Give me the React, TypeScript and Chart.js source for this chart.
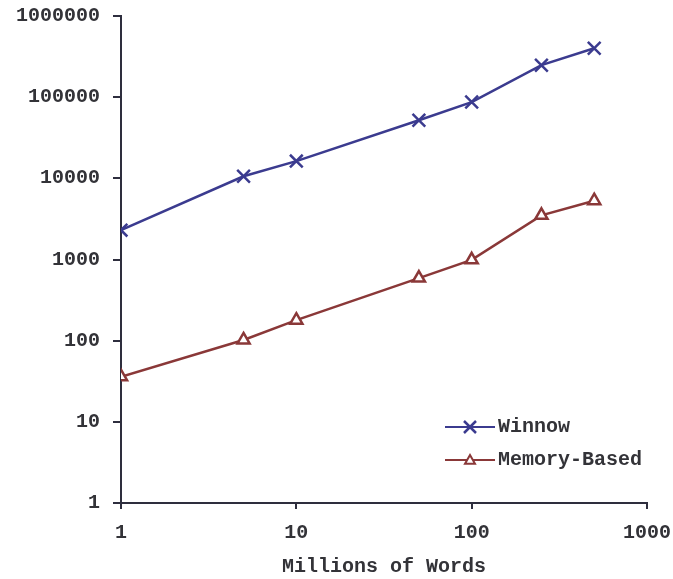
import React, { useEffect, useRef } from "react";
import { Chart, registerables } from "chart.js";

Chart.register(...registerables);

const xValues = [1, 5, 10, 50, 100, 250, 500];
const winnow = [2300, 10600, 16300, 52000, 87000, 248000, 401000];
const memoryBased = [36, 102, 179, 590, 990, 3500, 5300];
const yTicks = [1, 10, 100, 1000, 10000, 100000, 1000000];
const xTicks = [1, 10, 100, 1000];
const seriesNames = ["Winnow", "Memory-Based"];
const xTitle = "Millions of Words";

const FONT = '"Liberation Mono", "Courier New", monospace';
const TEXT = "#333338";
const AXIS = "#2e2e3e";
const BLUE = "#3b3b8f";
const RED = "#8a3838";

const legendPlugin = {
  id: "innerLegend",
  afterDraw(chart: any) {
    const ctx = chart.ctx;
    const x0 = 445;
    const x1 = 495;
    const rows = [427, 460];
    chart.data.datasets.forEach((ds: any, i: number) => {
      const y = rows[i];
      ctx.save();
      ctx.strokeStyle = ds.borderColor;
      ctx.lineWidth = 2;
      ctx.beginPath();
      ctx.moveTo(x0, y);
      ctx.lineTo(x1, y);
      ctx.stroke();
      const cx = (x0 + x1) / 2;
      if (ds.pointStyle === "crossRot") {
        const r = 6;
        ctx.lineWidth = 2.5;
        ctx.beginPath();
        ctx.moveTo(cx - r, y - r);
        ctx.lineTo(cx + r, y + r);
        ctx.moveTo(cx + r, y - r);
        ctx.lineTo(cx - r, y + r);
        ctx.stroke();
      } else {
        const r = 5;
        ctx.fillStyle = "#fff";
        ctx.beginPath();
        ctx.moveTo(cx, y - r);
        ctx.lineTo(cx + r, y + r * 0.75);
        ctx.lineTo(cx - r, y + r * 0.75);
        ctx.closePath();
        ctx.fill();
        ctx.stroke();
      }
      ctx.fillStyle = TEXT;
      ctx.font = `bold 20px ${FONT}`;
      ctx.textBaseline = "middle";
      ctx.textAlign = "left";
      ctx.fillText(ds.label, x1 + 3, y);
      ctx.restore();
    });
  },
};

const zeroPad = (s: any) => {
  s.paddingTop = 0;
  s.paddingBottom = 0;
  s.paddingLeft = 0;
  s.paddingRight = 0;
};

export default function App() {
  const ref = useRef<HTMLCanvasElement>(null);
  useEffect(() => {
    document.body.style.margin = "0";
    const canvas = ref.current!;
    const chart = new Chart(canvas, {
      type: "line",
      data: {
        datasets: [
          {
            label: seriesNames[0],
            data: xValues.map((x, i) => ({ x, y: winnow[i] })),
            borderColor: BLUE,
            backgroundColor: BLUE,
            borderWidth: 2.5,
            pointStyle: "crossRot",
            pointRadius: 9,
            pointBorderWidth: 2.5,
            pointBorderColor: BLUE,
          },
          {
            label: seriesNames[1],
            data: xValues.map((x, i) => ({ x, y: memoryBased[i] })),
            borderColor: RED,
            backgroundColor: "#ffffff",
            borderWidth: 2.5,
            pointStyle: "triangle",
            pointRadius: 7,
            pointBorderWidth: 2.5,
            pointBorderColor: RED,
            pointBackgroundColor: "#ffffff",
          },
        ],
      },
      options: {
        animation: false,
        responsive: false,
        maintainAspectRatio: false,
        layout: { padding: { top: 16, right: 26, left: 0, bottom: 0 } },
        plugins: {
          legend: { display: false },
          tooltip: { enabled: false },
        },
        scales: {
          x: {
            type: "logarithmic",
            min: 1,
            max: 1000,
            afterBuildTicks: (s: any) => {
              s.ticks = xTicks.map((v) => ({ value: v }));
            },
            afterFit: (s: any) => {
              s.height = 76;
              zeroPad(s);
            },
            grid: {
              drawOnChartArea: false,
              drawTicks: true,
              tickLength: 6,
              color: AXIS,
              lineWidth: 2,
            },
            border: { display: true, color: AXIS, width: 2 },
            ticks: {
              color: TEXT,
              padding: 12,
              maxRotation: 0,
              autoSkip: false,
              font: { family: FONT, size: 20, weight: "bold" },
              callback: (v: any) => String(v),
            },
            title: {
              display: true,
              text: xTitle,
              color: TEXT,
              padding: { top: 8, bottom: 0 },
              font: { family: FONT, size: 20, weight: "bold" },
            },
          },
          y: {
            type: "logarithmic",
            min: 1,
            max: 1000000,
            afterBuildTicks: (s: any) => {
              s.ticks = yTicks.map((v) => ({ value: v }));
            },
            afterFit: (s: any) => {
              s.width = 121;
              zeroPad(s);
            },
            grid: {
              drawOnChartArea: false,
              drawTicks: true,
              tickLength: 8,
              color: AXIS,
              lineWidth: 2,
            },
            border: { display: true, color: AXIS, width: 2 },
            ticks: {
              color: TEXT,
              padding: 13,
              autoSkip: false,
              font: { family: FONT, size: 20, weight: "bold" },
              callback: (v: any) => String(v),
            },
          },
        },
      },
      plugins: [legendPlugin],
    } as any);
    return () => chart.destroy();
  }, []);
  return (
    <div style={{ width: 673, height: 579, background: "#fff" }}>
      <canvas ref={ref} width={673} height={579} style={{ display: "block" }} />
    </div>
  );
}
